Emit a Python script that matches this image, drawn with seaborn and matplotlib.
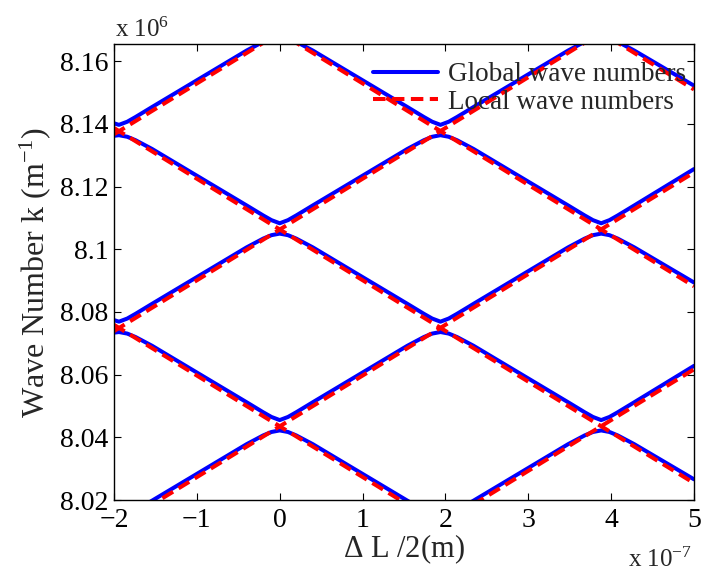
import matplotlib
matplotlib.use("Agg")
import matplotlib.pyplot as plt
from matplotlib.lines import Line2D
from matplotlib.ticker import FuncFormatter
import numpy as np
import pandas as pd
import seaborn as sns

# ---------------- data (x in 1e-7 m, k in 1e6 m^-1) ----------------
x_grid = [-2.0, -1.94, -1.84, -1.74, -1.54, -0.4, -0.2, -0.1, 0.0, 0.1, 0.2, 0.4,
          1.54, 1.74, 1.84, 1.94, 2.04, 2.14, 2.34, 3.48, 3.68, 3.78, 3.88, 3.98,
          4.08, 4.28, 5.0]

global_band1 = [8.0146, 8.0141, 8.0151, 8.0166, 8.0198, 8.0378, 8.0406, 8.0417, 8.0422,
                8.0417, 8.0406, 8.0378, 8.0198, 8.0166, 8.0151, 8.0141, 8.0151, 8.0166,
                8.0198, 8.0378, 8.0406, 8.0417, 8.0422, 8.0417, 8.0406, 8.0378, 8.0266]
global_band2 = [8.0734, 8.0736, 8.0731, 8.0720, 8.0692, 8.0512, 8.0480, 8.0465, 8.0455,
                8.0465, 8.0480, 8.0512, 8.0692, 8.0720, 8.0731, 8.0736, 8.0731, 8.0720,
                8.0692, 8.0512, 8.0480, 8.0465, 8.0455, 8.0465, 8.0480, 8.0512, 8.0628]
global_band3 = [8.0774, 8.0769, 8.0779, 8.0794, 8.0826, 8.1006, 8.1034, 8.1045, 8.1050,
                8.1045, 8.1034, 8.1006, 8.0826, 8.0794, 8.0779, 8.0769, 8.0779, 8.0794,
                8.0826, 8.1006, 8.1034, 8.1045, 8.1050, 8.1045, 8.1034, 8.1006, 8.0894]
global_band4 = [8.1362, 8.1364, 8.1359, 8.1348, 8.1320, 8.1140, 8.1108, 8.1093, 8.1083,
                8.1093, 8.1108, 8.1140, 8.1320, 8.1348, 8.1359, 8.1364, 8.1359, 8.1348,
                8.1320, 8.1140, 8.1108, 8.1093, 8.1083, 8.1093, 8.1108, 8.1140, 8.1256]
global_band5 = [8.1402, 8.1397, 8.1407, 8.1422, 8.1454, 8.1634, 8.1662, 8.1673, 8.1678,
                8.1673, 8.1662, 8.1634, 8.1454, 8.1422, 8.1407, 8.1397, 8.1407, 8.1422,
                8.1454, 8.1634, 8.1662, 8.1673, 8.1678, 8.1673, 8.1662, 8.1634, 8.1522]

# local wave numbers: straight lines given by their values at the two ends
local_x = [-2.0, 5.0]
local_rising = [(7.9483, 8.0617), (8.0111, 8.1245), (8.0739, 8.1873), (8.1367, 8.2501)]
local_falling = [(8.0759, 7.9626), (8.1387, 8.0254), (8.2015, 8.0882), (8.2643, 8.1510)]

x_ticks = [-2, -1, 0, 1, 2, 3, 4, 5]
y_ticks = [8.02, 8.04, 8.06, 8.08, 8.10, 8.12, 8.14, 8.16]

# ---------------- tables ----------------
bands = [global_band1, global_band2, global_band3, global_band4, global_band5]
g_rows = []
for i, b in enumerate(bands):
    for xv, kv in zip(x_grid, b):
        g_rows.append({"band": i, "x": xv, "k": kv})
df_global = pd.DataFrame(g_rows)

l_rows = []
for i, (a, b) in enumerate(local_rising + local_falling):
    for xv, kv in zip(local_x, (a, b)):
        l_rows.append({"line": i, "x": xv, "k": kv})
df_local = pd.DataFrame(l_rows)

# ---------------- style ----------------
sns.set_style("ticks")
plt.rcParams["font.family"] = ["Liberation Serif", "DejaVu Serif"]
plt.rcParams["mathtext.fontset"] = "custom"
plt.rcParams["mathtext.rm"] = "Liberation Serif"
plt.rcParams["mathtext.it"] = "Liberation Serif:italic"
plt.rcParams["axes.linewidth"] = 1.0

fig = plt.figure(figsize=(7.01, 5.73), dpi=100)
ax = fig.add_axes([114 / 701, 1 - 500 / 573, 580 / 701, 456 / 573])

LW = 2.9
DASH = (0, (3.1, 1.6))
sns.lineplot(data=df_global, x="x", y="k", units="band", estimator=None, sort=False,
             color="#0000ff", linewidth=LW, ax=ax, legend=False)
sns.lineplot(data=df_local, x="x", y="k", units="line", estimator=None, sort=False,
             color="#ff0000", linewidth=LW, linestyle=DASH, ax=ax, legend=False)

ax.set_xlim(-2, 5)
ax.set_ylim(8.02, 8.1655)
ax.set_xticks(x_ticks)
ax.set_yticks(y_ticks)
ax.yaxis.set_major_formatter(FuncFormatter(lambda v, p: "%g" % round(v, 4)))
ax.xaxis.set_major_formatter(FuncFormatter(lambda v, p: ("%g" % v).replace("-", "\u2212")))
ax.tick_params(direction="in", length=5, width=0.8, top=True, right=True,
               labelsize=20, colors="black")
ax.tick_params(axis="x", pad=6)
ax.tick_params(axis="y", pad=4)
for s in ax.spines.values():
    s.set_color("black")

ax.set_xlabel(r"$\Delta$ L /2(m)", fontsize=22, labelpad=-1)
ax.set_ylabel(r"Wave Number k (m$^{-1}$)", fontsize=23, labelpad=5)

fig.text(115 / 701, 1 - 37 / 573, r"x 10$^{6}$", fontsize=18, ha="left", va="baseline")
fig.text(628 / 701, 1 - 567 / 573, r"x 10$^{-7}$", fontsize=18, ha="left", va="baseline")

handles = [Line2D([], [], color="#0000ff", lw=LW),
           Line2D([], [], color="#ff0000", lw=LW, linestyle=DASH)]
ax.legend(handles, ["Global wave numbers", "Local wave numbers"], loc="upper right",
          frameon=False, fontsize=19.5, handlelength=2.4, handletextpad=0.35,
          borderaxespad=0.0, labelspacing=0.1, borderpad=0.3,
          bbox_to_anchor=(1.0, 0.978))

fig.savefig("out.png", dpi=100)
